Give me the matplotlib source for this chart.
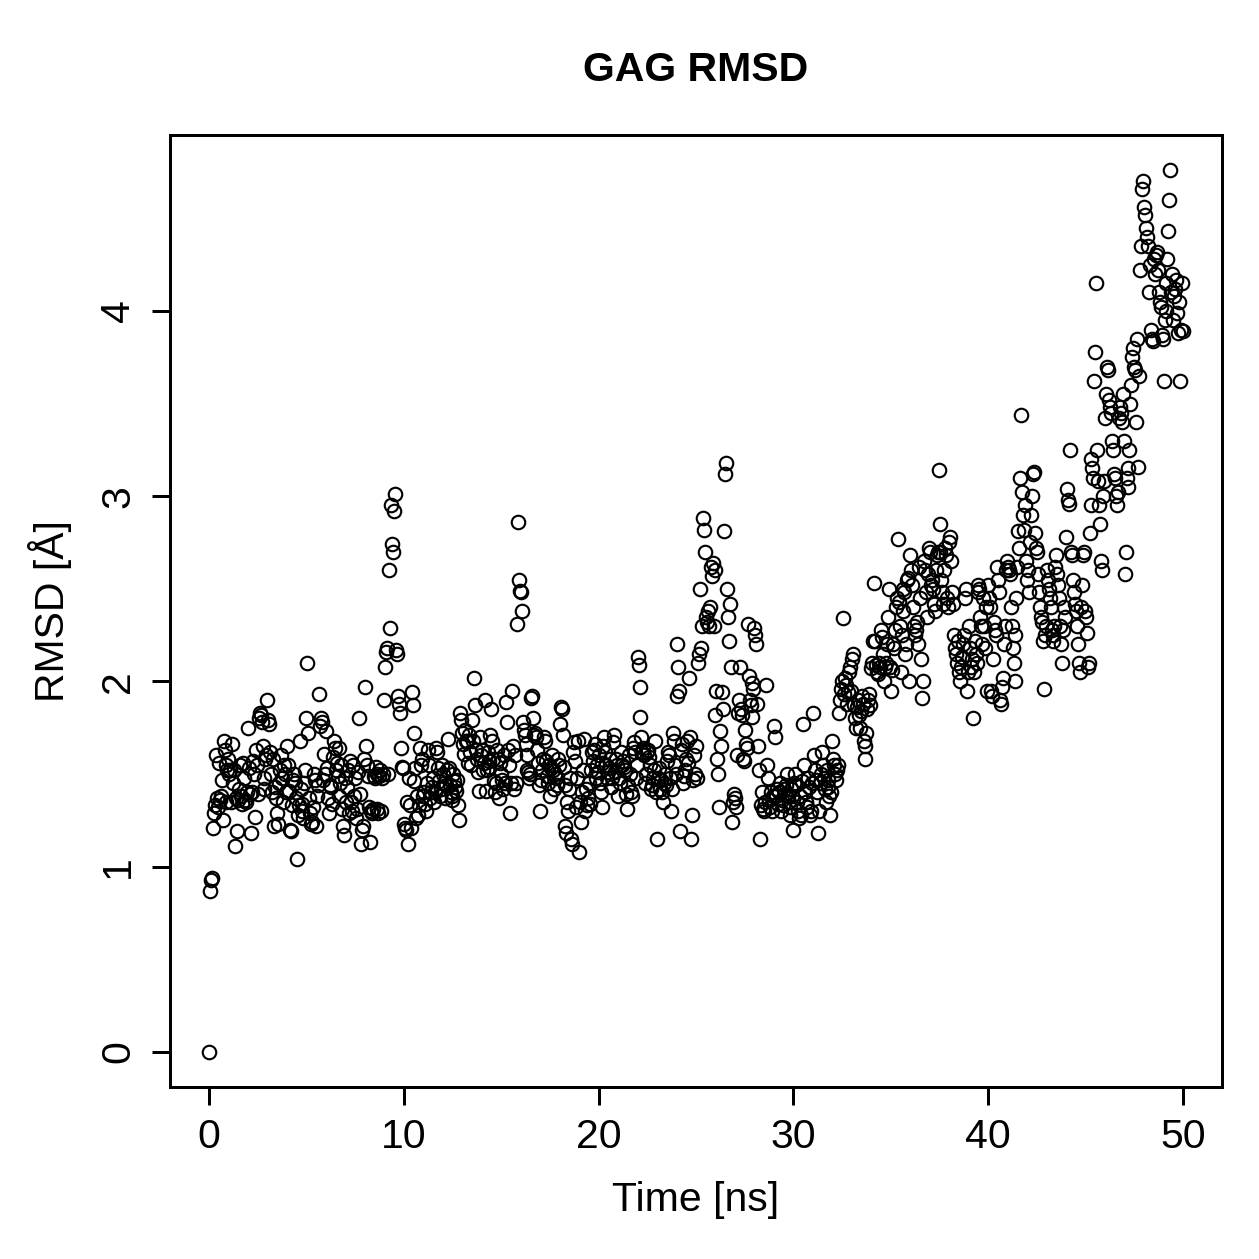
import numpy as np
import matplotlib.pyplot as plt

# RMSD of GAG over the trajectory, one frame every 0.05 ns
time_step = 0.05
rmsd = [
    # 0-1 ns
    0.00, 0.87, 0.93, 0.94, 1.21, 1.29, 1.33, 1.60, 1.37, 1.32, 1.56, 1.36, 1.38, 1.47, 1.25, 1.68, 1.63, 1.55, 1.35, 1.52,
    # 1-2
    1.58, 1.50, 1.52, 1.35, 1.66, 1.45, 1.52, 1.11, 1.37, 1.19, 1.36, 1.42, 1.55, 1.38, 1.34, 1.56, 1.48, 1.36, 1.35, 1.40,
    # 2-3
    1.75, 1.53, 1.39, 1.18, 1.40, 1.57, 1.50, 1.27, 1.63, 1.55, 1.39, 1.80, 1.83, 1.82, 1.78, 1.65, 1.48, 1.42, 1.58, 1.60,
    # 3-4
    1.90, 1.79, 1.77, 1.62, 1.50, 1.40, 1.58, 1.22, 1.43, 1.37, 1.29, 1.23, 1.45, 1.52, 1.60, 1.48, 1.35, 1.55, 1.50, 1.40,
    # 4-5
    1.65, 1.55, 1.41, 1.20, 1.19, 1.33, 1.47, 1.50, 1.45, 1.37, 1.04, 1.28, 1.33, 1.68, 1.42, 1.34, 1.30, 1.26, 1.45, 1.52,
    # 5-6
    1.80, 2.10, 1.72, 1.37, 1.29, 1.23, 1.24, 1.32, 1.50, 1.47, 1.22, 1.38, 1.44, 1.93, 1.76, 1.80, 1.78, 1.47, 1.61, 1.50,
    # 6-7
    1.73, 1.53, 1.37, 1.29, 1.44, 1.43, 1.34, 1.59, 1.68, 1.64, 1.52, 1.56, 1.49, 1.38, 1.64, 1.45, 1.55, 1.31, 1.22, 1.17,
    # 7-8
    1.48, 1.35, 1.43, 1.52, 1.29, 1.57, 1.35, 1.30, 1.55, 1.38, 1.48, 1.26, 1.31, 1.51, 1.80, 1.39, 1.12, 1.20, 1.22, 1.58,
    # 8-9
    1.97, 1.65, 1.55, 1.49, 1.32, 1.13, 1.30, 1.29, 1.31, 1.49, 1.48, 1.54, 1.50, 1.31, 1.29, 1.49, 1.52, 1.30, 1.48, 1.50,
    # 9-10
    1.90, 2.08, 2.16, 2.18, 1.50, 2.60, 2.29, 2.95, 2.74, 2.70, 2.92, 3.01, 2.17, 2.15, 1.92, 1.88, 1.83, 1.64, 1.54, 1.53,
    # 10-11
    1.23, 1.21, 1.20, 1.35, 1.12, 1.48, 1.33, 1.21, 1.94, 1.87, 1.72, 1.46, 1.53, 1.26, 1.38, 1.28, 1.33, 1.64, 1.55, 1.58,
    # 11-12
    1.38, 1.40, 1.34, 1.30, 1.45, 1.63, 1.55, 1.37, 1.40, 1.43, 1.48, 1.35, 1.40, 1.64, 1.62, 1.53, 1.46, 1.38, 1.42, 1.55,
    # 12-13
    1.50, 1.45, 1.37, 1.44, 1.52, 1.69, 1.53, 1.44, 1.40, 1.36, 1.38, 1.50, 1.46, 1.43, 1.41, 1.47, 1.33, 1.25, 1.83, 1.79,
    # 13-14
    1.72, 1.66, 1.61, 1.74, 1.68, 1.68, 1.56, 1.71, 1.62, 1.55, 1.79, 1.68, 2.02, 1.87, 1.63, 1.58, 1.51, 1.41, 1.70, 1.60,
    # 14-15
    1.63, 1.52, 1.56, 1.90, 1.41, 1.52, 1.62, 1.57, 1.54, 1.71, 1.85, 1.68, 1.58, 1.46, 1.40, 1.45, 1.63, 1.58, 1.37, 1.56,
    # 15-16
    1.50, 1.47, 1.42, 1.60, 1.45, 1.89, 1.78, 1.63, 1.55, 1.29, 1.45, 1.95, 1.65, 1.42, 1.60, 1.45, 2.31, 2.86, 2.55, 2.49,
    # 16-17
    2.48, 2.38, 1.78, 1.74, 1.71, 1.66, 1.60, 1.52, 1.51, 1.48, 1.50, 1.91, 1.92, 1.80, 1.71, 1.72, 1.70, 1.63, 1.56, 1.44,
    # 17-18
    1.30, 1.47, 1.52, 1.58, 1.70, 1.68, 1.57, 1.49, 1.45, 1.55, 1.38, 1.53, 1.60, 1.52, 1.42, 1.50, 1.48, 1.44, 1.58, 1.55,
    # 18-19
    1.77, 1.86, 1.85, 1.71, 1.54, 1.44, 1.22, 1.18, 1.35, 1.30, 1.42, 1.48, 1.15, 1.12, 1.62, 1.67, 1.57, 1.32, 1.48, 1.68,
    # 19-20
    1.08, 1.35, 1.24, 1.40, 1.52, 1.69, 1.30, 1.42, 1.33, 1.37, 1.45, 1.34, 1.52, 1.62, 1.57, 1.63, 1.66, 1.48, 1.55, 1.51,
    # 20-21
    1.60, 1.45, 1.40, 1.56, 1.32, 1.65, 1.70, 1.62, 1.55, 1.48, 1.51, 1.53, 1.58, 1.43, 1.48, 1.67, 1.71, 1.51, 1.58, 1.55,
    # 21-22
    1.38, 1.48, 1.45, 1.62, 1.55, 1.57, 1.54, 1.52, 1.39, 1.31, 1.44, 1.60, 1.50, 1.40, 1.38, 1.64, 1.67, 1.62, 1.48, 1.55,
    # 22-23
    2.13, 2.09, 1.97, 1.81, 1.70, 1.62, 1.64, 1.60, 1.45, 1.50, 1.62, 1.63, 1.59, 1.55, 1.42, 1.44, 1.48, 1.52, 1.68, 1.40,
    # 23-24
    1.15, 1.48, 1.53, 1.42, 1.47, 1.40, 1.35, 1.45, 1.50, 1.44, 1.57, 1.62, 1.60, 1.48, 1.30, 1.42, 1.72, 1.68, 1.55, 1.50,
    # 24-25
    1.92, 2.20, 2.08, 1.95, 1.19, 1.63, 1.66, 1.45, 1.49, 1.52, 1.58, 1.68, 1.56, 2.02, 1.70, 1.15, 1.28, 1.47, 1.60, 1.50,
    # 25-26
    1.65, 1.48, 2.10, 2.15, 2.50, 2.18, 2.30, 2.88, 2.82, 2.70, 2.35, 2.32, 2.38, 2.30, 2.40, 2.62, 2.57, 2.64, 2.30, 2.60,
    # 26-27
    1.82, 1.95, 1.58, 1.50, 1.32, 1.73, 1.65, 1.94, 1.85, 2.81, 3.12, 3.18, 2.50, 2.35, 2.22, 2.42, 2.08, 1.24, 1.35, 1.39,
    # 27-28
    1.37, 1.32, 1.60, 1.83, 1.90, 2.08, 1.85, 1.82, 1.58, 1.57, 1.74, 1.66, 1.64, 2.31, 2.03, 1.90, 1.87, 1.81, 1.99, 1.96,
    # 28-29
    2.29, 2.25, 2.20, 1.88, 1.65, 1.52, 1.15, 1.33, 1.40, 1.31, 1.30, 1.35, 1.98, 1.55, 1.48, 1.36, 1.32, 1.40, 1.30, 1.38,
    # 29-30
    1.76, 1.70, 1.38, 1.42, 1.34, 1.40, 1.45, 1.30, 1.36, 1.33, 1.42, 1.39, 1.44, 1.50, 1.38, 1.35, 1.32, 1.28, 1.42, 1.38,
    # 30-31
    1.20, 1.45, 1.50, 1.44, 1.35, 1.30, 1.26, 1.38, 1.28, 1.46, 1.77, 1.55, 1.40, 1.35, 1.32, 1.48, 1.43, 1.28, 1.30, 1.45,
    # 31-32
    1.83, 1.60, 1.52, 1.47, 1.40, 1.18, 1.30, 1.45, 1.50, 1.62, 1.55, 1.48, 1.42, 1.35, 1.52, 1.47, 1.43, 1.38, 1.28, 1.40,
    # 32-33
    1.68, 1.58, 1.55, 1.50, 1.47, 1.52, 1.55, 1.83, 1.90, 1.96, 2.00, 2.34, 1.93, 2.02, 1.98, 1.88, 1.94, 2.05, 2.08, 1.95,
    # 33-34
    2.12, 2.15, 1.87, 1.80, 1.75, 1.86, 1.90, 1.82, 1.75, 1.84, 1.92, 1.88, 1.68, 1.65, 1.58, 1.72, 1.85, 1.90, 1.93, 1.87,
    # 34-35
    2.07, 2.10, 2.22, 2.53, 2.22, 2.09, 2.05, 2.04, 2.10, 2.08, 2.28, 2.24, 2.15, 2.00, 2.08, 2.10, 2.20, 2.35, 2.50, 2.08,
    # 35-36
    1.95, 2.06, 2.20, 2.18, 2.28, 2.40, 2.45, 2.77, 2.43, 2.30, 2.05, 2.25, 2.38, 2.50, 2.48, 2.15, 2.20, 2.55, 2.56, 2.00,
    # 36-37
    2.68, 2.60, 2.52, 2.40, 2.30, 2.25, 2.28, 2.32, 2.20, 2.62, 2.45, 2.12, 1.91, 2.00, 2.65, 2.60, 2.48, 2.35, 2.58, 2.72,
    # 37-38
    2.70, 2.52, 2.55, 2.50, 2.42, 2.38, 2.60, 2.68, 2.70, 3.14, 2.85, 2.70, 2.55, 2.48, 2.42, 2.60, 2.72, 2.68, 2.45, 2.40,
    # 38-39
    2.75, 2.78, 2.65, 2.48, 2.42, 2.25, 2.18, 2.15, 2.10, 2.22, 2.05, 2.00, 2.08, 2.13, 2.20, 2.25, 2.45, 2.50, 1.95, 2.05,
    # 39-40
    2.30, 2.18, 2.08, 2.12, 1.80, 2.05, 2.22, 2.15, 2.10, 2.48, 2.52, 2.50, 2.35, 2.30, 2.20, 2.45, 2.30, 2.18, 2.40, 1.95,
    # 40-41
    2.52, 2.45, 2.40, 1.95, 1.92, 2.12, 2.32, 2.28, 2.25, 2.62, 2.55, 2.48, 1.90, 1.88, 1.97, 2.02, 2.20, 2.30, 2.60, 2.65,
    # 41-42
    2.62, 2.60, 2.58, 2.40, 2.30, 2.18, 2.10, 2.00, 2.25, 2.45, 2.62, 2.81, 2.72, 3.10, 3.44, 3.02, 2.90, 2.82, 2.95, 2.65,
    # 42-43
    2.55, 2.60, 2.48, 2.75, 2.90, 3.00, 3.12, 3.13, 2.80, 2.72, 2.70, 2.58, 2.48, 2.40, 2.35, 2.32, 2.22, 1.96, 2.25, 2.30,
    # 43-44
    2.60, 2.55, 2.50, 2.45, 2.40, 2.28, 2.25, 2.22, 2.30, 2.62, 2.68, 2.58, 2.52, 2.45, 2.30, 2.20, 2.10, 2.28, 2.40, 2.35,
    # 44-45
    2.78, 3.04, 2.98, 2.96, 3.25, 2.70, 2.68, 2.55, 2.48, 2.42, 2.38, 2.30, 2.20, 2.10, 2.05, 2.40, 2.52, 2.68, 2.70, 2.38,
    # 45-46
    2.35, 2.26, 2.08, 2.10, 2.80, 2.95, 3.20, 3.15, 3.10, 3.62, 3.78, 4.15, 3.25, 3.08, 2.95, 2.85, 2.65, 2.60, 3.00, 3.08,
    # 46-47
    3.42, 3.55, 3.70, 3.68, 3.52, 3.48, 3.45, 3.30, 3.25, 3.12, 3.10, 3.00, 2.95, 3.02, 3.42, 3.48, 3.45, 3.40, 3.55, 3.30,
    # 47-48
    2.58, 2.70, 3.10, 3.05, 3.15, 3.25, 3.50, 3.60, 3.75, 3.80, 3.70, 3.68, 3.40, 3.85, 3.16, 3.65, 4.22, 4.35, 4.66, 4.70,
    # 48-49
    4.56, 4.52, 4.45, 4.40, 4.35, 4.10, 4.25, 3.90, 3.85, 3.84, 4.28, 4.20, 4.30, 4.32, 4.22, 4.10, 4.05, 4.02, 3.87, 3.85,
    # 49-50
    3.62, 3.95, 4.00, 4.15, 4.28, 4.43, 4.60, 4.76, 4.10, 4.20, 3.95, 4.08, 4.12, 4.17, 3.99, 3.88, 4.05, 3.62, 3.90, 4.15,
    # 50
    3.89,
]
rmsd = np.array(rmsd)
time_ns = np.arange(len(rmsd)) * time_step

x_ticks = [0, 10, 20, 30, 40, 50]
y_ticks = [0, 1, 2, 3, 4]

plt.rcParams['font.family'] = ['Liberation Sans', 'DejaVu Sans']
fs = 16.4

fig = plt.figure(figsize=(1259 / 180, 1259 / 180), dpi=180)
ax = fig.add_axes([170 / 1259, 1 - 1087 / 1259, 1052 / 1259, 952 / 1259])

ax.plot(time_ns, rmsd, linestyle='none', marker='o', markersize=5.4,
        markerfacecolor='none', markeredgecolor='black', markeredgewidth=0.85)

# R-style 4% padding on both axes
xr = time_ns.max() - time_ns.min()
yr = rmsd.max() - rmsd.min()
ax.set_xlim(time_ns.min() - 0.04 * xr, time_ns.max() + 0.04 * xr)
ax.set_ylim(rmsd.min() - 0.04 * yr, rmsd.max() + 0.04 * yr)

ax.set_xticks(x_ticks)
ax.set_yticks(y_ticks)
ax.set_xticklabels([str(t) for t in x_ticks], fontsize=fs)
ax.set_yticklabels([str(t) for t in y_ticks], fontsize=fs, rotation=90, va='center')
ax.tick_params(direction='out', length=7.2, width=1.2, pad=5)
ax.tick_params(axis='y', pad=6)
for s in ax.spines.values():
    s.set_linewidth(1.2)

ax.set_xlabel('Time [ns]', fontsize=fs)
ax.set_ylabel('RMSD [Å]', fontsize=fs)
ax.xaxis.set_label_coords(0.5, (1087 - 1200) / 952)
ax.yaxis.set_label_coords((50 - 170) / 1052, 0.5)
ax.xaxis.label.set_verticalalignment('center')
ax.yaxis.label.set_verticalalignment('center')

fig.text(696 / 1259, 1 - 70 / 1259, 'GAG RMSD', fontsize=fs, fontweight='bold',
         ha='center', va='center')

fig.savefig('out.png', dpi=180, facecolor='white')
